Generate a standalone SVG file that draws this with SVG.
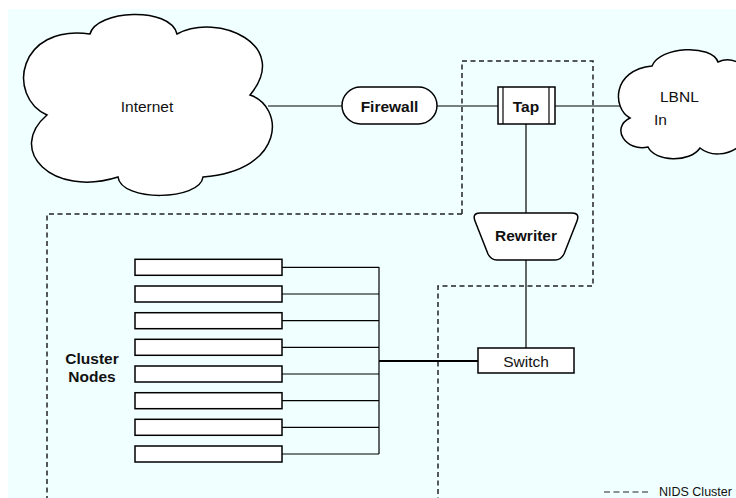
<svg xmlns="http://www.w3.org/2000/svg" width="736" height="498" viewBox="0 0 736 498">
<style>
  .shape { fill: #ffffff; stroke: #000000; stroke-width: 1.5; }
  .wire { fill: none; stroke: #000000; stroke-width: 1.2; }
  .bus { fill: none; stroke: #000000; stroke-width: 2.2; }
  .dash { fill: none; stroke: #222222; stroke-width: 1.5; stroke-dasharray: 5 3.5; }
  .lbl { font-family: "Liberation Sans", Arial, sans-serif; font-size: 15.5px; fill: #111111; }
  .b { font-weight: bold; }
</style>
<rect x="8" y="9" width="728" height="489" fill="#f0ffff"/>

<g id="cluster-boundary">
  <path class="dash" d="M462,214 V61 H593 V286 H438 V498"/>
  <path class="dash" d="M462,214 H47 V498"/>
</g>

<g id="connectors">
  <line class="wire" x1="268" y1="106" x2="342" y2="106"/>
  <line class="wire" x1="437" y1="106" x2="498" y2="106"/>
  <line class="wire" x1="555" y1="106" x2="625" y2="106"/>
  <line class="wire" x1="526" y1="124" x2="526" y2="213"/>
  <line class="wire" x1="526" y1="260" x2="526" y2="348"/>
  <line class="bus" x1="379" y1="361" x2="478" y2="361"/>
  <path class="wire" d="M379,267 V454"/>
  <path class="wire" d="M282,267.3 H379 M282,294 H379 M282,320.7 H379 M282,347.3 H379 M282,374 H379 M282,400.7 H379 M282,427.3 H379 M282,454 H379"/>
</g>

<g id="internet">
  <path class="shape" d="M90,34 C96,10 170,6 177,34 C218,12 292,45 250,95 C284,106 287,170 203,177 C200,201 121,202 118,177 C52,198 6,150 47,115 C6,96 18,24 90,34 Z"/>
  <text class="lbl" x="147" y="112" text-anchor="middle">Internet</text>
</g>

<g id="firewall">
  <rect class="shape" x="342" y="87" width="95" height="37" rx="18.5" ry="18.5"/>
  <text class="lbl b" x="389.5" y="112" text-anchor="middle">Firewall</text>
</g>

<g id="tap">
  <rect class="shape" x="498" y="87" width="57" height="37"/>
  <line class="wire" x1="503" y1="87" x2="503" y2="124"/>
  <line class="wire" x1="549" y1="87" x2="549" y2="124"/>
  <text class="lbl b" x="526" y="112" text-anchor="middle">Tap</text>
</g>

<g id="lbnl">
  <path class="shape" d="M652,66 C660,46 712,44 718,62 C745,50 768,92 745,110 C765,140 722,166 700,148 C690,163 655,162 648,147 C626,152 610,128 630,118 C612,108 612,70 652,66 Z"/>
  <text class="lbl" x="660" y="101.5">LBNL</text>
  <text class="lbl" x="654" y="125">In</text>
</g>

<g id="rewriter">
  <path class="shape" d="M480,213 H572 Q580,213 577,221 L564,254 Q561,260 555,260 H497 Q491,260 488,254 L475,221 Q472,213 480,213 Z"/>
  <text class="lbl b" x="526" y="240.5" text-anchor="middle">Rewriter</text>
</g>

<g id="switch">
  <rect class="shape" x="478" y="348" width="96" height="25"/>
  <text class="lbl" x="526" y="367" text-anchor="middle">Switch</text>
</g>

<g id="cluster-nodes">
  <rect class="shape" x="135" y="259.3" width="147" height="16"/>
  <rect class="shape" x="135" y="286" width="147" height="16"/>
  <rect class="shape" x="135" y="312.7" width="147" height="16"/>
  <rect class="shape" x="135" y="339.3" width="147" height="16"/>
  <rect class="shape" x="135" y="366" width="147" height="16"/>
  <rect class="shape" x="135" y="392.7" width="147" height="16"/>
  <rect class="shape" x="135" y="419.3" width="147" height="16"/>
  <rect class="shape" x="135" y="446" width="147" height="16"/>
  <text class="lbl b" x="92" y="364" text-anchor="middle">Cluster</text>
  <text class="lbl b" x="92" y="381.5" text-anchor="middle">Nodes</text>
</g>

<g id="legend">
  <line x1="604" y1="492" x2="650" y2="492" stroke="#222222" stroke-width="1.2" stroke-dasharray="6 3.5"/>
  <text x="659" y="496" font-family="Liberation Sans, Arial, sans-serif" font-size="12.5" fill="#111111">NIDS Cluster</text>
</g>
</svg>
